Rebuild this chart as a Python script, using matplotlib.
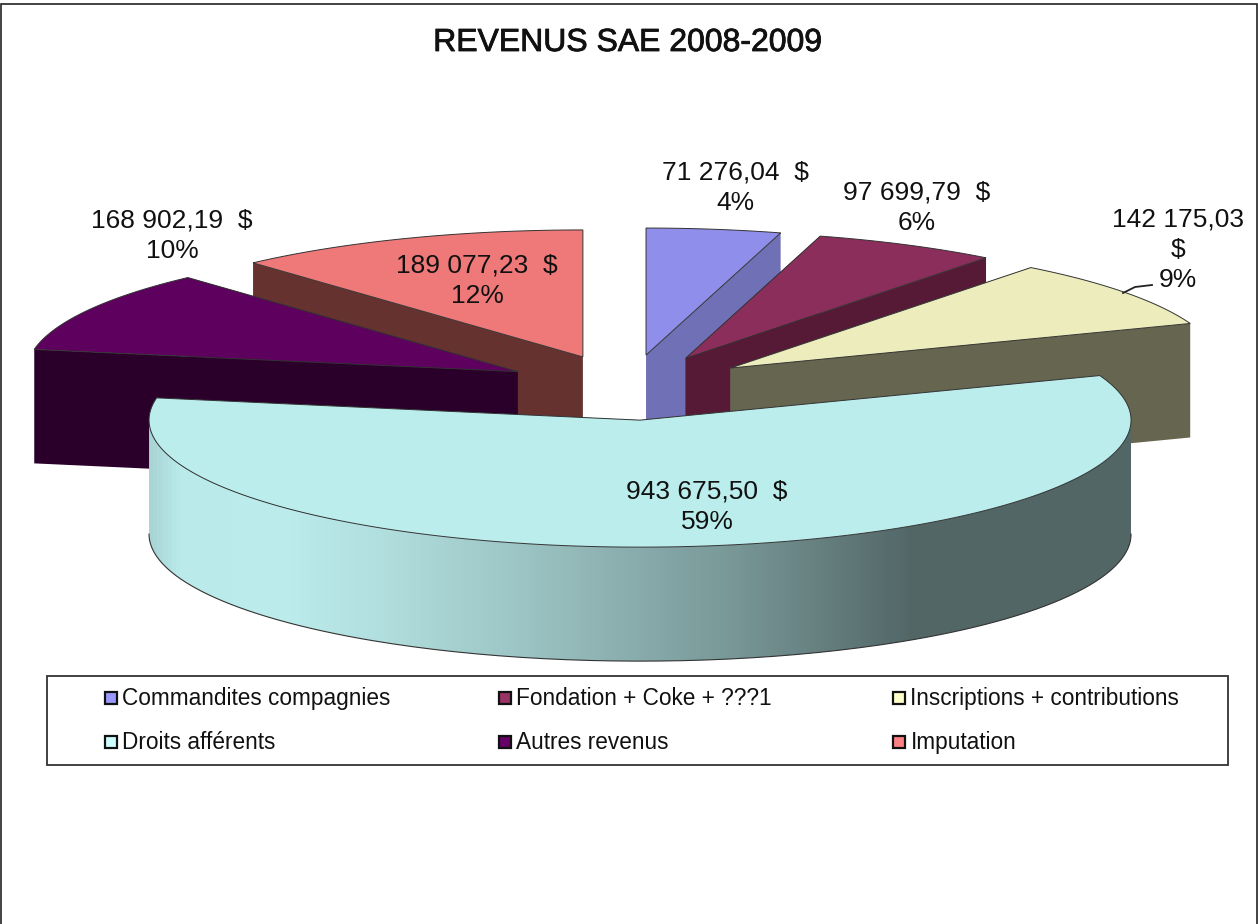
import numpy as np
import matplotlib
matplotlib.use("Agg")
import matplotlib.pyplot as plt
import matplotlib.patheffects as pe
from matplotlib.colors import LinearSegmentedColormap
from matplotlib.patches import Polygon, Rectangle

plt.rcParams["font.family"] = ["Liberation Sans", "DejaVu Sans"]

title = "REVENUS SAE 2008-2009"
categories = ["Commandites compagnies", "Fondation + Coke + ???1", "Inscriptions + contributions",
              "Droits afférents", "Autres revenus", "Imputation"]
values = [71276.04, 97699.79, 142175.03, 943675.50, 168902.19, 189077.23]
value_labels = ["71 276,04  $", "97 699,79  $", "142 175,03\n$", "943 675,50  $", "168 902,19  $", "189 077,23  $"]
top_colors = ["#8F8FEB", "#8C2E5C", "#ECECBC", "#BBEDED", "#5E005E", "#EF7878"]
side_colors = ["#7070B6", "#561A36", "#666650", "#526868", "#2A002A", "#663230"]
legend_colors = ["#9999FF", "#993366", "#FFFFCC", "#CCFFFF", "#660066", "#FF8080"]

# picture geometry, in pixels
W, H = 1258, 924
CX, CY = 628.5, 387.5
RX, RY = 491.0, 127.0
EXPLODE = 0.258
DEPTH = 114.0
label_pos = [(735, 188), (917, 207.5), (1178, 250), (707, 506.5), (172, 236), (477, 281)]
draw_order = [0, 5, 1, 4, 2, 3]


def rim(a, tip):
    # a is degrees clockwise from the top of the pie
    r = np.radians(a)
    return np.column_stack([tip[0] + RX * np.sin(r), tip[1] - RY * np.cos(r)])


fig = plt.figure(figsize=(W / 100, H / 100), dpi=100)
ax = fig.add_axes([0, 0, 1, 1])
ax.set_xlim(0, W)
ax.set_ylim(H, 0)
ax.axis("off")
ax.add_patch(Rectangle((1, 4), W - 2, H, fc="white", ec="#222222", lw=1.2))
ax.text(628, 43, title, ha="center", va="center", fontsize=23, color="#111111",
        path_effects=[pe.withStroke(linewidth=0.6, foreground="#111111")])

vals = np.asarray(values)
edges = np.concatenate([[0.0], np.cumsum(vals) / vals.sum() * 360.0])
down = np.array([0.0, DEPTH])
z = 2.0

for i in draw_order:
    a0, a1 = edges[i], edges[i + 1]
    mid = np.radians((a0 + a1) / 2)
    tip = np.array([CX + EXPLODE * RX * np.sin(mid), CY - EXPLODE * RY * np.cos(mid)])
    for a in (a1, a0):
        p = rim(a, tip)[0]
        face = np.array([tip, p, p + down, tip + down])
        ax.add_patch(Polygon(face, fc=side_colors[i], ec="none", zorder=z))
        z += 0.01

    # outer wall, only the part that faces the viewer
    f0, f1 = max(a0, 90.0), min(a1, 270.0)
    if f1 > f0:
        arc = rim(np.linspace(f0, f1, 200), tip)
        wall = Polygon(np.vstack([arc, (arc + down)[::-1]]), fc="none", ec="none", zorder=z)
        ax.add_patch(wall)
        cmap = LinearSegmentedColormap.from_list(
            "wall", [(0.0, "#A8D4D4"), (0.03, "#BAEAEA"), (0.135, "#BCECEC"), (0.25, "#B0DCDC"),
                     (0.38, "#9CC4C4"), (0.60, "#789696"), (0.78, "#526666"), (1.0, "#526666")])
        im = ax.imshow(np.linspace(0, 1, 256).reshape(1, -1), cmap=cmap, aspect="auto", zorder=z,
                       extent=(arc[:, 0].min(), arc[:, 0].max(), CY + 400, CY - 100))
        im.set_clip_path(wall)
        ax.set_xlim(0, W)
        ax.set_ylim(H, 0)
        ax.plot((arc + down)[:, 0], (arc + down)[:, 1], color="#333333", lw=0.8, zorder=z + 0.005)
        z += 0.01

    arc = rim(np.linspace(a0, a1, 200), tip)
    top = np.vstack([tip, arc])
    ax.add_patch(Polygon(top, fc=top_colors[i], ec="#333333", lw=0.7, zorder=z))
    z += 0.01

pct = vals / vals.sum() * 100
for i, (x, y) in enumerate(label_pos):
    ax.text(x, y, f"{value_labels[i]}\n{pct[i]:.0f}%", ha="center", va="center",
            fontsize=19, linespacing=1.32, color="#111111", zorder=10)
ax.plot([1123, 1135, 1152], [293, 287, 285], color="#222222", lw=1.3, zorder=10)

ax.add_patch(Rectangle((47, 676), 1181, 89, fc="white", ec="#333333", lw=1.3, zorder=10))
col_x = [105, 499, 893]
row_y = [698, 742]
for i, name in enumerate(categories):
    x = col_x[i % 3]
    y = row_y[i // 3]
    ax.add_patch(Rectangle((x, y - 6), 12, 12, fc=legend_colors[i], ec="#111111", lw=1.6, zorder=11))
    ax.text(x + 17.5, y + 0.5, name, ha="left", va="center", fontsize=16.3, color="#111111", zorder=11)

fig.savefig("out.png", dpi=100)
